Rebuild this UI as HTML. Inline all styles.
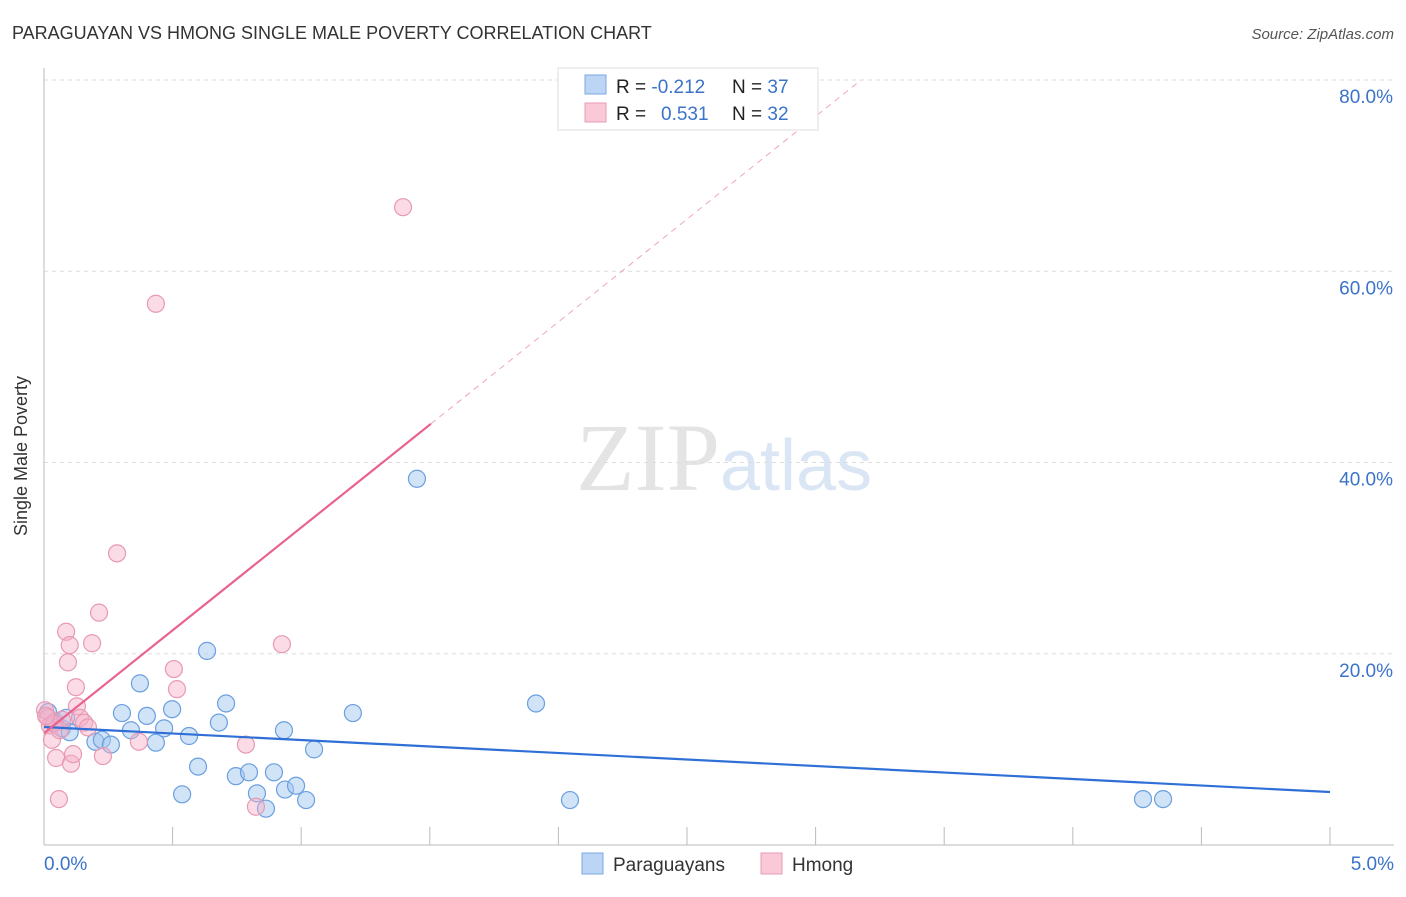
<!DOCTYPE html>
<html><head><meta charset="utf-8"><style>
body{margin:0;background:#fff;font-family:"Liberation Sans",sans-serif}
</style></head><body>
<svg id="c" width="1406" height="892" xmlns="http://www.w3.org/2000/svg" style="font-family:'Liberation Sans',sans-serif">
<text x="12" y="39" font-size="18" fill="#333">PARAGUAYAN VS HMONG SINGLE MALE POVERTY CORRELATION CHART</text>
<text x="1394" y="39" font-size="15" fill="#555" font-style="italic" text-anchor="end">Source: ZipAtlas.com</text>
<text x="27" y="456" font-size="18" fill="#333" text-anchor="middle" transform="rotate(-90 27 456)">Single Male Poverty</text>
<text x="720" y="490" font-size="96" fill="#e4e4e4" text-anchor="end" font-family="Liberation Serif,serif">ZIP</text>
<text x="720" y="490" font-size="72" fill="#dbe6f5">atlas</text>
<g id="grid"></g><g id="axes"></g><g id="pts"></g><g id="trend"></g>
<g>
<rect x="558" y="68" width="260" height="62" fill="#fff" stroke="#ddd"/>
<rect x="585" y="75" width="21" height="19" fill="#bcd5f5" stroke="#7aa8e4"/>
<rect x="585" y="103" width="21" height="19" fill="#f9c9d7" stroke="#ea9ab5"/>
<text x="616" y="93" font-size="19" fill="#222">R = <tspan fill="#3b73c9">-0.212</tspan><tspan x="732">N = </tspan><tspan fill="#3b73c9">37</tspan></text>
<text x="616" y="120" font-size="19" fill="#222">R = <tspan x="661" fill="#3b73c9">0.531</tspan><tspan x="732">N = </tspan><tspan fill="#3b73c9">32</tspan></text>
</g>
<g>
<rect x="582" y="853" width="21" height="21" fill="#bcd5f5" stroke="#7aa8e4"/>
<text x="613" y="871" font-size="19" fill="#333">Paraguayans</text>
<rect x="761" y="853" width="21" height="21" fill="#f9c9d7" stroke="#ea9ab5"/>
<text x="792" y="871" font-size="19" fill="#333">Hmong</text>
</g>
</svg>
<script>
const blueX=[0.016,0.043,0.07,0.086,0.10,0.20,0.225,0.26,0.303,0.338,0.373,0.40,0.435,0.467,0.498,0.537,0.564,0.599,0.634,0.68,0.708,0.746,0.797,0.828,0.863,0.894,0.933,0.937,0.98,1.019,1.05,1.201,1.45,1.913,2.045,4.273,4.351];
const blueY=[13.9,12.9,12.2,13.3,11.8,10.8,11.0,10.5,13.8,12.0,16.9,13.5,10.7,12.2,14.2,5.3,11.4,8.2,20.3,12.8,14.8,7.2,7.6,5.4,3.8,7.6,12.0,5.8,6.2,4.7,10.0,13.8,38.3,14.8,4.7,4.8,4.8];
const pinkX=[0.004,0.016,0.023,0.031,0.047,0.058,0.07,0.086,0.093,0.10,0.105,0.113,0.124,0.128,0.14,0.156,0.171,0.187,0.214,0.229,0.284,0.369,0.435,0.505,0.517,0.785,0.824,0.925,1.396,0.039,0.062,0.008];
const pinkY=[14.1,13.3,12.5,11.0,9.1,4.8,13.1,22.3,19.1,20.9,8.5,9.5,16.5,14.5,13.3,12.8,12.3,21.1,24.3,9.3,30.5,10.8,56.6,18.4,16.3,10.5,4.0,21.0,66.7,12.7,12.0,13.5];
const yTicks=[20,40,60,80];
const yTickLabels=["20.0%","40.0%","60.0%","80.0%"];
const xTicks=[0.5,1,1.5,2,2.5,3,3.5,4,4.5,5];
const xEndLabels=["0.0%","5.0%"];
const blueTrend=[12.34,5.54];
const pinkTrend=[11.7,21.5];
const NS="http://www.w3.org/2000/svg";
const sx=v=>44+v*257.2, sy=v=>845-v*9.5625;
function mk(p,t,a){const e=document.createElementNS(NS,t);for(const k in a)e.setAttribute(k,a[k]);document.getElementById(p).appendChild(e);return e;}
yTicks.forEach((t,i)=>{
 const l=mk('grid','line',{x1:44,x2:1394,y1:sy(t),y2:sy(t),stroke:'#ddd','stroke-dasharray':'4 4'});
 
 
 const tx=mk('grid','text',{x:1393,y:sy(t)+23,'font-size':19,fill:'#3b73c9','text-anchor':'end'});
 tx.textContent=yTickLabels[i];
 
 
});
let a=mk('axes','line',{x1:44,x2:44,y1:68,y2:845,stroke:'#bbb'});


a=mk('axes','line',{x1:44,x2:1394,y1:845,y2:845,stroke:'#bbb'});


xTicks.forEach(t=>{const l=mk('axes','line',{x1:sx(t),x2:sx(t),y1:827,y2:845,stroke:'#bbb'});
 
 });
[[0,'start',44],[5,'end',1394]].forEach((d,i)=>{const tx=mk('axes','text',{x:d[2],y:870,'font-size':19,fill:'#3b73c9','text-anchor':d[1]});tx.textContent=xEndLabels[i];
 
 });
blueX.forEach((x,i)=>{const c=mk('pts','circle',{cx:sx(x),cy:sy(blueY[i]),r:8.5,fill:'rgba(164,200,240,0.5)',stroke:'#6a9fe0','stroke-width':1.2});
 
 });
pinkX.forEach((x,i)=>{const c=mk('pts','circle',{cx:sx(x),cy:sy(pinkY[i]),r:8.5,fill:'rgba(244,176,200,0.45)',stroke:'#e899b3','stroke-width':1.2});
 
 });
let t=mk('trend','line',{x1:sx(0),y1:sy(blueTrend[0]),x2:sx(5),y2:sy(blueTrend[1]),stroke:'#2f6fd6','stroke-width':2.2});


const pe=1.504, pd=(80-pinkTrend[0])/pinkTrend[1];
t=mk('trend','line',{x1:sx(0),y1:sy(pinkTrend[0]),x2:sx(pe),y2:sy(pinkTrend[0]+pinkTrend[1]*pe),stroke:'#e8638f','stroke-width':2.2});


t=mk('trend','line',{x1:sx(pe),y1:sy(pinkTrend[0]+pinkTrend[1]*pe),x2:sx(pd),y2:sy(80),stroke:'#f0a5bd','stroke-width':1,'stroke-dasharray':'6 5'});


</script>
</body></html>
